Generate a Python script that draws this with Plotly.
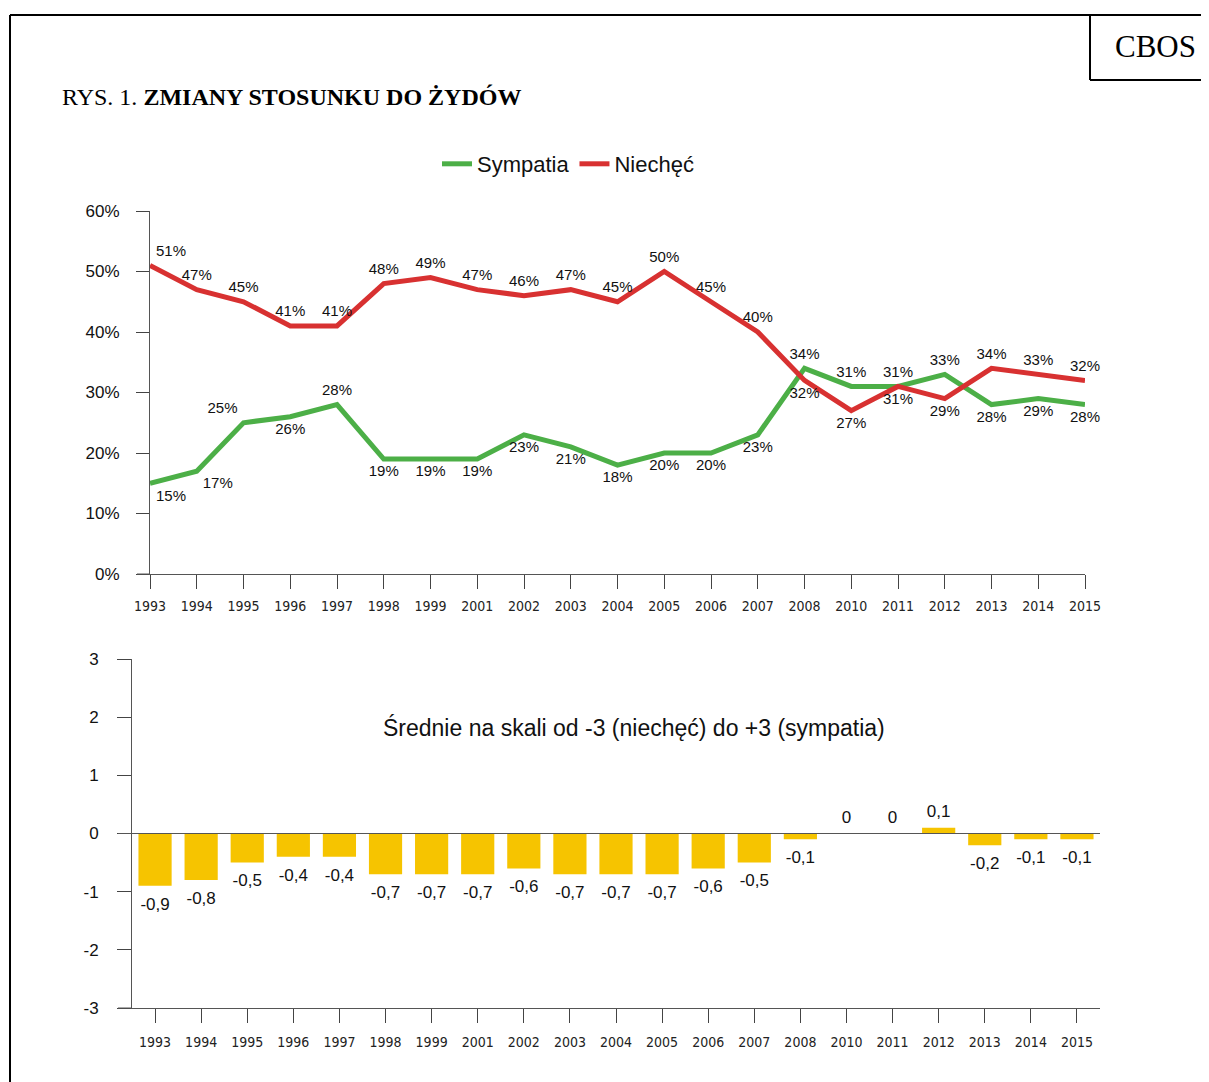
import plotly.graph_objects as go

# ---------------- data ----------------
years = ["1993", "1994", "1995", "1996", "1997", "1998", "1999", "2001", "2002", "2003",
         "2004", "2005", "2006", "2007", "2008", "2010", "2011", "2012", "2013", "2014", "2015"]
sympatia = [15, 17, 25, 26, 28, 19, 19, 19, 23, 21, 18, 20, 20, 23, 34, 31, 31, 33, 28, 29, 28]
niechec = [51, 47, 45, 41, 41, 48, 49, 47, 46, 47, 45, 50, 45, 40, 32, 27, 31, 29, 34, 33, 32]
srednie = [-0.9, -0.8, -0.5, -0.4, -0.4, -0.7, -0.7, -0.7, -0.6, -0.7, -0.7, -0.7, -0.6, -0.5,
           -0.1, 0, 0, 0.1, -0.2, -0.1, -0.1]
pct_ticks = [0, 10, 20, 30, 40, 50, 60]
scale_ticks = [-3, -2, -1, 0, 1, 2, 3]

# ---------------- styles ----------------
OFF = 8                      # page body margin of the html page
W, H = 1209 - OFF, 1082 - OFF
GREEN = "#4caf47"
RED = "#d83131"
GOLD = "#f6c400"
SANS = "Liberation Sans, Arial, sans-serif"
NARROW = "Liberation Sans Narrow, DejaVu Sans Condensed, Arial Narrow, sans-serif"
SERIF = "Liberation Serif, Times New Roman, serif"
NOMARK = "rgba(0,0,0,0)"

pos_s = ["bottom right", "bottom right", "top left", "bottom center", "top center"] + \
        ["bottom center"] * 9 + ["top center"] * 4 + ["bottom center"] * 3
pos_n = ["top right"] + ["top center"] * 13 + ["bottom center"] * 4 + ["top center"] * 3


def px(x):
    return (x - OFF) / W


def py(y):
    return 1 - (y - OFF) / H


def fmt(v):
    if v == 0:
        return "0"
    return f"{v:.1f}".replace(".", ",")


fig = go.Figure()

fig.add_trace(go.Scatter(
    x=years, y=sympatia, name="Sympatia", mode="lines+markers+text",
    line=dict(color=GREEN, width=5),
    marker=dict(size=8, color=NOMARK, line=dict(width=0, color=NOMARK)),
    text=[f"{v}%" for v in sympatia], textposition=pos_s,
    textfont=dict(family=SANS, size=15, color="#111"),
    cliponaxis=False, xaxis="x", yaxis="y", hoverinfo="x+y"))
fig.add_trace(go.Scatter(
    x=years, y=niechec, name="Niechęć", mode="lines+markers+text",
    line=dict(color=RED, width=5),
    marker=dict(size=8, color=NOMARK, line=dict(width=0, color=NOMARK)),
    text=[f"{v}%" for v in niechec], textposition=pos_n,
    textfont=dict(family=SANS, size=15, color="#111"),
    cliponaxis=False, xaxis="x", yaxis="y", hoverinfo="x+y"))

fig.add_trace(go.Bar(
    x=years, y=srednie, marker=dict(color=GOLD, line=dict(width=0)),
    showlegend=False, xaxis="x2", yaxis="y2", hoverinfo="x+y"))
# value labels of the bars
fig.add_trace(go.Scatter(
    x=years, y=srednie, mode="markers+text", showlegend=False,
    marker=dict(size=[16 if v < 0 else 8 for v in srednie], color=NOMARK,
                line=dict(width=0, color=NOMARK)),
    text=[fmt(v) for v in srednie],
    textposition=["bottom center" if v < 0 else "top center" for v in srednie],
    textfont=dict(family=SANS, size=17, color="#111"),
    cliponaxis=False, xaxis="x2", yaxis="y2", hoverinfo="skip"))

# ---------------- layout ----------------
axis_common = dict(ticks="outside", tickcolor="#444", tickwidth=1, showgrid=False,
                   zeroline=False, showline=True, linecolor="#555", linewidth=1,
                   automargin=False)

fig.update_layout(
    template="none",
    width=W, height=H, margin=dict(l=0, r=0, t=0, b=0, pad=0, autoexpand=False),
    paper_bgcolor="white", plot_bgcolor="white",
    showlegend=True,
    legend=dict(orientation="h", x=px(568), y=py(164), xanchor="center", yanchor="middle",
                font=dict(family=SANS, size=22, color="#111"), itemwidth=30,
                bgcolor="rgba(0,0,0,0)"),
    bargap=0.28,
    xaxis=dict(domain=[px(150), px(1085)], type="category", range=[0, len(years) - 1],
               ticklen=14, tickfont=dict(family=NARROW, size=14, color="#222"),
               ticklabelstandoff=5, anchor="y", **axis_common),
    yaxis=dict(domain=[py(574), py(211)], range=[0, 60], tickvals=pct_ticks,
               ticktext=[f"{v}%" for v in pct_ticks], ticklen=13,
               tickfont=dict(family=SANS, size=17, color="#111"),
               ticklabelstandoff=13, anchor="x", **axis_common),
    xaxis2=dict(domain=[px(132), px(1100)], type="category", range=[-0.5, len(years) - 0.5],
                ticklen=14, tickfont=dict(family=NARROW, size=14, color="#222"),
                ticklabelstandoff=7, anchor="y2", **axis_common),
    yaxis2=dict(domain=[py(1008), py(659)], range=[-3, 3], tickvals=scale_ticks,
                ticktext=[str(v) for v in scale_ticks], ticklen=14,
                tickfont=dict(family=SANS, size=17, color="#111"),
                ticklabelstandoff=15, anchor="x2", **axis_common),
)

shapes = [
    # frame
    dict(type="line", xref="paper", yref="paper", x0=px(10), x1=1, y0=py(15), y1=py(15),
         line=dict(color="black", width=2)),
    dict(type="line", xref="paper", yref="paper", x0=px(10), x1=px(10), y0=py(15), y1=0,
         line=dict(color="black", width=2)),
    dict(type="line", xref="paper", yref="paper", x0=px(1090), x1=px(1090), y0=py(15), y1=py(80),
         line=dict(color="black", width=2)),
    dict(type="line", xref="paper", yref="paper", x0=px(1090), x1=1, y0=py(80), y1=py(80),
         line=dict(color="black", width=2)),
    # axis overhangs
    dict(type="line", xref="paper", yref="paper", x0=px(137), x1=px(150), y0=py(574), y1=py(574),
         line=dict(color="#555", width=1)),
    dict(type="line", xref="paper", yref="paper", x0=px(118), x1=px(132), y0=py(1008), y1=py(1008),
         line=dict(color="#555", width=1)),
    # zero line of the bar chart
    dict(type="line", xref="paper", yref="y2", x0=px(118), x1=px(1100), y0=0, y1=0,
         line=dict(color="#555", width=1.2), layer="above"),
]
fig.update_layout(shapes=shapes)

fig.add_annotation(xref="paper", yref="paper", x=px(60), y=py(97), xanchor="left", yanchor="middle",
                   text="RYS. 1. <b>ZMIANY STOSUNKU DO ŻYDÓW</b>", showarrow=False,
                   font=dict(family=SERIF, size=24, color="black"))
fig.add_annotation(xref="paper", yref="paper", x=px(1155), y=py(47), xanchor="center", yanchor="middle",
                   text="CBOS", showarrow=False,
                   font=dict(family=SERIF, size=31, color="black"))
fig.add_annotation(xref="paper", yref="paper", x=px(634), y=py(727), xanchor="center", yanchor="middle",
                   text="Średnie na skali od -3 (niechęć) do +3 (sympatia)", showarrow=False,
                   font=dict(family=SANS, size=23, color="#111"))

fig.write_html("out.html")
